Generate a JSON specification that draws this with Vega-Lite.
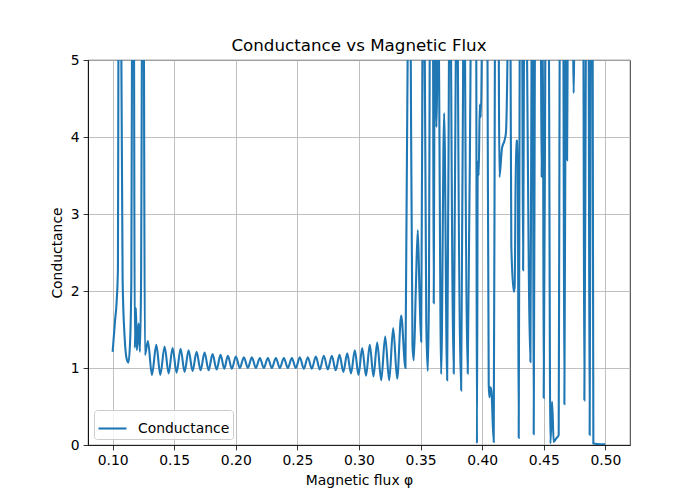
{
  "$schema": "https://vega.github.io/schema/vega-lite/v6.json",
  "width": 542,
  "height": 385,
  "autosize": "none",
  "padding": {"left": 88, "top": 60, "right": 70, "bottom": 55},
  "background": "white",
  "title": {
    "text": "Conductance vs Magnetic Flux",
    "font": "DejaVu Sans",
    "fontSize": 16.7,
    "fontWeight": "normal",
    "color": "black",
    "offset": -2
  },
  "data": {
    "values": [
      {"phi": 0.1000, "G": 1.21},
      {"phi": 0.10187, "G": 1.6},
      {"phi": 0.10325, "G": 1.86},
      {"phi": 0.10430, "G": 2.3},
      {"phi": 0.10471, "G": 5.3},
      {"phi": 0.10568, "G": 12},
      {"phi": 0.10698, "G": 5.3},
      {"phi": 0.10811, "G": 2.14},
      {"phi": 0.10974, "G": 1.4},
      {"phi": 0.11136, "G": 1.12},
      {"phi": 0.11282, "G": 1.07},
      {"phi": 0.11420, "G": 1.35},
      {"phi": 0.11517, "G": 2.14},
      {"phi": 0.11574, "G": 5.3},
      {"phi": 0.11655, "G": 12},
      {"phi": 0.11736, "G": 5.3},
      {"phi": 0.11801, "G": 1.26},
      {"phi": 0.11890, "G": 1.78},
      {"phi": 0.11971, "G": 1.23},
      {"phi": 0.12109, "G": 1.58},
      {"phi": 0.12215, "G": 1.21},
      {"phi": 0.12312, "G": 2.2},
      {"phi": 0.12377, "G": 5.3},
      {"phi": 0.12458, "G": 10},
      {"phi": 0.12539, "G": 5.3},
      {"phi": 0.12620, "G": 1.17},
      {"phi": 0.12864, "G": 1.35},
      {"phi": 0.13189, "G": 0.91},
      {"phi": 0.13546, "G": 1.30},
      {"phi": 0.13870, "G": 0.91},
      {"phi": 0.14219, "G": 1.28},
      {"phi": 0.14544, "G": 0.93},
      {"phi": 0.14868, "G": 1.26},
      {"phi": 0.15193, "G": 0.94},
      {"phi": 0.15517, "G": 1.25},
      {"phi": 0.15842, "G": 0.95},
      {"phi": 0.16166, "G": 1.23},
      {"phi": 0.16491, "G": 0.96},
      {"phi": 0.16815, "G": 1.21},
      {"phi": 0.17140, "G": 0.97},
      {"phi": 0.17465, "G": 1.20},
      {"phi": 0.17789, "G": 0.97},
      {"phi": 0.18114, "G": 1.18},
      {"phi": 0.18438, "G": 0.98},
      {"phi": 0.18763, "G": 1.17},
      {"phi": 0.19063, "G": 0.99},
      {"phi": 0.19355, "G": 1.16},
      {"phi": 0.19680, "G": 0.99},
      {"phi": 0.20004, "G": 1.15},
      {"phi": 0.20329, "G": 1.0},
      {"phi": 0.20653, "G": 1.14},
      {"phi": 0.20978, "G": 1.0},
      {"phi": 0.21302, "G": 1.14},
      {"phi": 0.21627, "G": 1.0},
      {"phi": 0.21951, "G": 1.13},
      {"phi": 0.22276, "G": 1.0},
      {"phi": 0.22600, "G": 1.13},
      {"phi": 0.22925, "G": 1.0},
      {"phi": 0.23250, "G": 1.13},
      {"phi": 0.23574, "G": 1.0},
      {"phi": 0.23899, "G": 1.13},
      {"phi": 0.24223, "G": 1.0},
      {"phi": 0.24548, "G": 1.13},
      {"phi": 0.24872, "G": 1.0},
      {"phi": 0.25197, "G": 1.14},
      {"phi": 0.25521, "G": 0.99},
      {"phi": 0.25846, "G": 1.14},
      {"phi": 0.26170, "G": 0.99},
      {"phi": 0.26495, "G": 1.15},
      {"phi": 0.26819, "G": 0.98},
      {"phi": 0.27144, "G": 1.16},
      {"phi": 0.27469, "G": 0.98},
      {"phi": 0.27793, "G": 1.16},
      {"phi": 0.28110, "G": 0.97},
      {"phi": 0.28418, "G": 1.17},
      {"phi": 0.28734, "G": 0.95},
      {"phi": 0.29043, "G": 1.19},
      {"phi": 0.29351, "G": 0.93},
      {"phi": 0.29659, "G": 1.23},
      {"phi": 0.29959, "G": 0.91},
      {"phi": 0.30260, "G": 1.26},
      {"phi": 0.30568, "G": 0.90},
      {"phi": 0.30876, "G": 1.30},
      {"phi": 0.31176, "G": 0.89},
      {"phi": 0.31477, "G": 1.33},
      {"phi": 0.31801, "G": 0.84},
      {"phi": 0.32126, "G": 1.41},
      {"phi": 0.32450, "G": 0.84},
      {"phi": 0.32775, "G": 1.52},
      {"phi": 0.33099, "G": 0.86},
      {"phi": 0.33424, "G": 1.68},
      {"phi": 0.33773, "G": 1.0},
      {"phi": 0.33960, "G": 5.3},
      {"phi": 0.34065, "G": 10},
      {"phi": 0.34195, "G": 5.3},
      {"phi": 0.34341, "G": 1.3},
      {"phi": 0.34446, "G": 1.10},
      {"phi": 0.34609, "G": 2.0},
      {"phi": 0.34771, "G": 2.79},
      {"phi": 0.34909, "G": 2.0},
      {"phi": 0.35047, "G": 1.34},
      {"phi": 0.35168, "G": 5.3},
      {"phi": 0.35249, "G": 10},
      {"phi": 0.35331, "G": 5.3},
      {"phi": 0.35461, "G": 1.6},
      {"phi": 0.35582, "G": 0.96},
      {"phi": 0.35680, "G": 2.0},
      {"phi": 0.35744, "G": 5.3},
      {"phi": 0.35866, "G": 10},
      {"phi": 0.36012, "G": 5.3},
      {"phi": 0.36069, "G": 1.84},
      {"phi": 0.36134, "G": 5.3},
      {"phi": 0.36191, "G": 6},
      {"phi": 0.36248, "G": 4.6},
      {"phi": 0.36288, "G": 4.13},
      {"phi": 0.36337, "G": 4.6},
      {"phi": 0.36394, "G": 6},
      {"phi": 0.36475, "G": 5.3},
      {"phi": 0.36669, "G": 0.92},
      {"phi": 0.36913, "G": 4.31},
      {"phi": 0.37156, "G": 0.84},
      {"phi": 0.37310, "G": 5.3},
      {"phi": 0.37383, "G": 8},
      {"phi": 0.37464, "G": 5.3},
      {"phi": 0.37691, "G": 0.93},
      {"phi": 0.37870, "G": 5.3},
      {"phi": 0.37935, "G": 8},
      {"phi": 0.38016, "G": 5.3},
      {"phi": 0.38292, "G": 0.71},
      {"phi": 0.38462, "G": 5.3},
      {"phi": 0.38527, "G": 8},
      {"phi": 0.38600, "G": 5.3},
      {"phi": 0.38827, "G": 0.93},
      {"phi": 0.39071, "G": 5.3},
      {"phi": 0.39290, "G": 10},
      {"phi": 0.39517, "G": 5.3},
      {"phi": 0.39574, "G": 0.02},
      {"phi": 0.39639, "G": 3.68},
      {"phi": 0.39720, "G": 3.5},
      {"phi": 0.39801, "G": 4.42},
      {"phi": 0.39899, "G": 4.26},
      {"phi": 0.39980, "G": 5.3},
      {"phi": 0.40183, "G": 10},
      {"phi": 0.40426, "G": 5.3},
      {"phi": 0.40532, "G": 0.78},
      {"phi": 0.40589, "G": 0.62},
      {"phi": 0.40669, "G": 0.75},
      {"phi": 0.40751, "G": 0.7},
      {"phi": 0.40937, "G": 0.04},
      {"phi": 0.41035, "G": 5.3},
      {"phi": 0.41197, "G": 10},
      {"phi": 0.41343, "G": 5.3},
      {"phi": 0.41400, "G": 3.48},
      {"phi": 0.41603, "G": 3.85},
      {"phi": 0.41805, "G": 3.95},
      {"phi": 0.41927, "G": 4.05},
      {"phi": 0.42073, "G": 5.3},
      {"phi": 0.42211, "G": 8},
      {"phi": 0.42300, "G": 5.3},
      {"phi": 0.42365, "G": 2.6},
      {"phi": 0.42560, "G": 1.99},
      {"phi": 0.42633, "G": 2.05},
      {"phi": 0.42755, "G": 3.95},
      {"phi": 0.42885, "G": 3.95},
      {"phi": 0.42966, "G": 0.09},
      {"phi": 0.43047, "G": 5.3},
      {"phi": 0.43144, "G": 8},
      {"phi": 0.43250, "G": 5.3},
      {"phi": 0.43323, "G": 2.27},
      {"phi": 0.43396, "G": 5.3},
      {"phi": 0.43509, "G": 8},
      {"phi": 0.43631, "G": 5.3},
      {"phi": 0.43915, "G": 1.08},
      {"phi": 0.44012, "G": 5.3},
      {"phi": 0.44061, "G": 6},
      {"phi": 0.44118, "G": 5.3},
      {"phi": 0.44183, "G": 0.14},
      {"phi": 0.44280, "G": 5.3},
      {"phi": 0.44523, "G": 10},
      {"phi": 0.44767, "G": 5.3},
      {"phi": 0.44832, "G": 3.48},
      {"phi": 0.44888, "G": 5.3},
      {"phi": 0.44929, "G": 5.5},
      {"phi": 0.44994, "G": 0.61},
      {"phi": 0.45132, "G": 5.3},
      {"phi": 0.45254, "G": 8},
      {"phi": 0.45416, "G": 5.3},
      {"phi": 0.45538, "G": 0.02},
      {"phi": 0.45676, "G": 0.56},
      {"phi": 0.45806, "G": 0.04},
      {"phi": 0.45984, "G": 0.08},
      {"phi": 0.46211, "G": 0.13},
      {"phi": 0.46292, "G": 5.3},
      {"phi": 0.46430, "G": 8},
      {"phi": 0.46592, "G": 5.3},
      {"phi": 0.46673, "G": 0.53},
      {"phi": 0.46779, "G": 5.3},
      {"phi": 0.46811, "G": 6},
      {"phi": 0.46852, "G": 4.18},
      {"phi": 0.46892, "G": 3.7},
      {"phi": 0.46941, "G": 5.3},
      {"phi": 0.47160, "G": 10},
      {"phi": 0.47379, "G": 5.3},
      {"phi": 0.47428, "G": 4.57},
      {"phi": 0.47477, "G": 5.3},
      {"phi": 0.47809, "G": 10},
      {"phi": 0.48215, "G": 5.3},
      {"phi": 0.48296, "G": 0.58},
      {"phi": 0.48418, "G": 5.3},
      {"phi": 0.48523, "G": 8},
      {"phi": 0.48645, "G": 5.3},
      {"phi": 0.48726, "G": 0.13},
      {"phi": 0.48807, "G": 5.3},
      {"phi": 0.48888, "G": 8},
      {"phi": 0.48969, "G": 5.3},
      {"phi": 0.49026, "G": 0.02},
      {"phi": 0.49594, "G": 0.01},
      {"phi": 0.5000, "G": 0.01}
    ]
  },
  "mark": {
    "type": "line",
    "clip": true,
    "strokeWidth": 2.1,
    "interpolate": "monotone"
  },
  "encoding": {
    "x": {
      "field": "phi",
      "type": "quantitative",
      "title": "Magnetic flux φ",
      "scale": {"domain": [0.08, 0.52], "nice": false, "zero": false},
      "axis": {"values": [0.1, 0.15, 0.2, 0.25, 0.3, 0.35, 0.4, 0.45, 0.5], "format": ".2f"}
    },
    "y": {
      "field": "G",
      "type": "quantitative",
      "title": "Conductance",
      "scale": {"domain": [0, 5], "nice": false},
      "axis": {"values": [0, 1, 2, 3, 4, 5], "format": "d"}
    },
    "color": {
      "datum": "Conductance",
      "type": "nominal",
      "scale": {"range": ["#1f77b4"]},
      "legend": {
        "title": null,
        "orient": "bottom-left",
        "offset": 6,
        "symbolType": "stroke",
        "symbolSize": 784,
        "symbolStrokeWidth": 2.1,
        "labelFont": "DejaVu Sans",
        "labelFontSize": 13.9,
        "labelColor": "black",
        "labelOffset": 10,
        "padding": 3,
        "strokeColor": "#cccccc",
        "fillColor": "rgba(255,255,255,0.8)",
        "cornerRadius": 3
      }
    }
  },
  "config": {
    "view": {"stroke": "black", "strokeWidth": 0.8},
    "axis": {
      "grid": true,
      "gridColor": "#b0b0b0",
      "gridWidth": 0.8,
      "domainColor": "black",
      "domainWidth": 0.8,
      "tickColor": "black",
      "tickWidth": 0.8,
      "tickSize": 4.9,
      "labelPadding": 4,
      "labelFont": "DejaVu Sans",
      "labelFontSize": 13.9,
      "labelColor": "black",
      "titleFont": "DejaVu Sans",
      "titleFontSize": 13.9,
      "titleFontWeight": "normal",
      "titleColor": "black",
      "titlePadding": 6
    }
  }
}
